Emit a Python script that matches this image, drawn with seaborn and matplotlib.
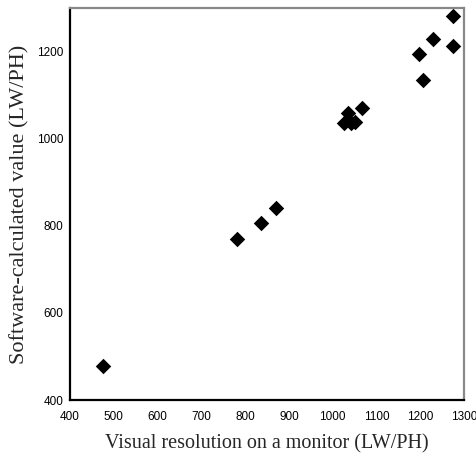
import matplotlib
matplotlib.use("Agg")
import matplotlib.pyplot as plt
import seaborn as sns
import pandas as pd

visual = [476, 782, 837, 871, 1025, 1034, 1042, 1051, 1066, 1198, 1207, 1230, 1274, 1276]
software = [478, 770, 806, 840, 1036, 1060, 1037, 1038, 1070, 1194, 1135, 1229, 1281, 1212]
x_ticks = [400, 500, 600, 700, 800, 900, 1000, 1100, 1200, 1300]
y_ticks = [400, 600, 800, 1000, 1200]

df = pd.DataFrame({"visual": visual, "software": software})

sns.set_style("white")
fig = plt.figure(figsize=(4.77, 4.63), dpi=100)
ax = fig.add_axes([0.1468, 0.136, 0.8259, 0.8467])
sns.scatterplot(data=df, x="visual", y="software", marker="D", s=62,
                color="black", edgecolor="black", linewidth=0, ax=ax, legend=False)
ax.set_xlim(400, 1300)
ax.set_ylim(400, 1300)
ax.set_xticks(x_ticks)
ax.set_yticks(y_ticks)
ax.tick_params(direction="in", length=3, width=1, labelsize=8.5, colors="black")
ax.tick_params(axis="x", pad=8)
ax.tick_params(axis="y", pad=5)
for lab in ax.get_xticklabels() + ax.get_yticklabels():
    lab.set_family("Liberation Sans")
ax.spines["left"].set_color("black")
ax.spines["bottom"].set_color("black")
ax.spines["left"].set_linewidth(1.6)
ax.spines["bottom"].set_linewidth(1.6)
ax.spines["top"].set_color("#888888")
ax.spines["right"].set_color("#888888")
ax.spines["top"].set_linewidth(1.6)
ax.spines["right"].set_linewidth(1.6)
ax.set_xlabel("Visual resolution on a monitor (LW/PH)", family="Liberation Serif", fontsize=14.5, labelpad=8)
ax.set_ylabel("Software-calculated value (LW/PH)", family="Liberation Serif", fontsize=16, labelpad=5)
fig.savefig("out.png", dpi=100)
